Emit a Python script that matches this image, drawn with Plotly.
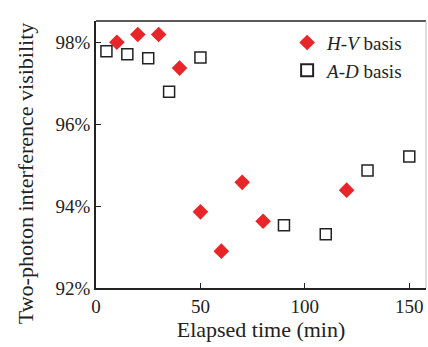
import plotly.graph_objects as go

hv_time = [10, 20, 30, 40, 50, 60, 70, 80, 120]
hv_vis = [98.00, 98.19, 98.19, 97.37, 93.86, 92.90, 94.58, 93.63, 94.39]

ad_time = [5, 15, 25, 35, 50, 90, 110, 130, 150]
ad_vis = [97.78, 97.71, 97.61, 96.79, 97.63, 93.53, 93.31, 94.87, 95.21]

x_ticks = [0, 50, 100, 150]
y_ticks = [92, 94, 96, 98]
y_labels = ["92%", "94%", "96%", "98%"]

FONT = "Liberation Serif"

fig = go.Figure()
fig.add_trace(go.Scatter(
    x=hv_time, y=hv_vis, mode="markers", name="<i>H-V</i> basis",
    marker=dict(symbol="diamond", size=12, color="#e8262a", line=dict(width=0)),
))
fig.add_trace(go.Scatter(
    x=ad_time, y=ad_vis, mode="markers", name="<i>A-D</i> basis",
    marker=dict(symbol="square-open", size=11, color="#222222", line=dict(width=1.5)),
))

fig.update_layout(
    width=428, height=347,
    margin=dict(l=96, r=2, t=21, b=59, autoexpand=False),
    paper_bgcolor="white", plot_bgcolor="white",
    font=dict(family=FONT, size=19, color="#222222"),
    showlegend=True,
    legend=dict(x=0.764, y=0.99, xanchor="center", yanchor="top",
                font=dict(family=FONT, size=19), bgcolor="rgba(0,0,0,0)",
                itemsizing="constant", tracegroupgap=0),
    xaxis=dict(
        range=[0, 158], tickvals=x_ticks, ticks="inside", ticklen=5,
        tickcolor="#222222", showline=True, linecolor="#222222", linewidth=1.5,
        mirror=False, showgrid=False, zeroline=False, automargin=False,
        title=dict(text="Elapsed time (min)", font=dict(size=22), standoff=2),
        tickfont=dict(size=19),
    ),
    yaxis=dict(
        range=[92, 98.52], tickvals=y_ticks, ticktext=y_labels, ticks="inside", ticklen=5,
        tickcolor="#222222", showline=True, linecolor="#222222", linewidth=1.5,
        mirror=False, showgrid=False, zeroline=False, automargin=False,
        tickfont=dict(size=19),
    ),
)
fig.add_annotation(text="Two-photon interference visibility", textangle=-90,
                   xref="paper", yref="paper", x=-0.215, y=0.43,
                   xanchor="center", yanchor="middle", showarrow=False,
                   font=dict(family=FONT, size=22, color="#222222"))
fig.add_shape(type="line", xref="paper", yref="paper", x0=0, x1=1, y0=1, y1=1,
              line=dict(color="#222222", width=1.5))
fig.add_shape(type="line", xref="paper", yref="paper", x0=1, x1=1, y0=0, y1=1,
              line=dict(color="#bbbbbb", width=1))

fig.write_html("out.html", config={"displayModeBar": False},
               post_script="document.body.style.margin='0';document.body.style.overflow='hidden';")
